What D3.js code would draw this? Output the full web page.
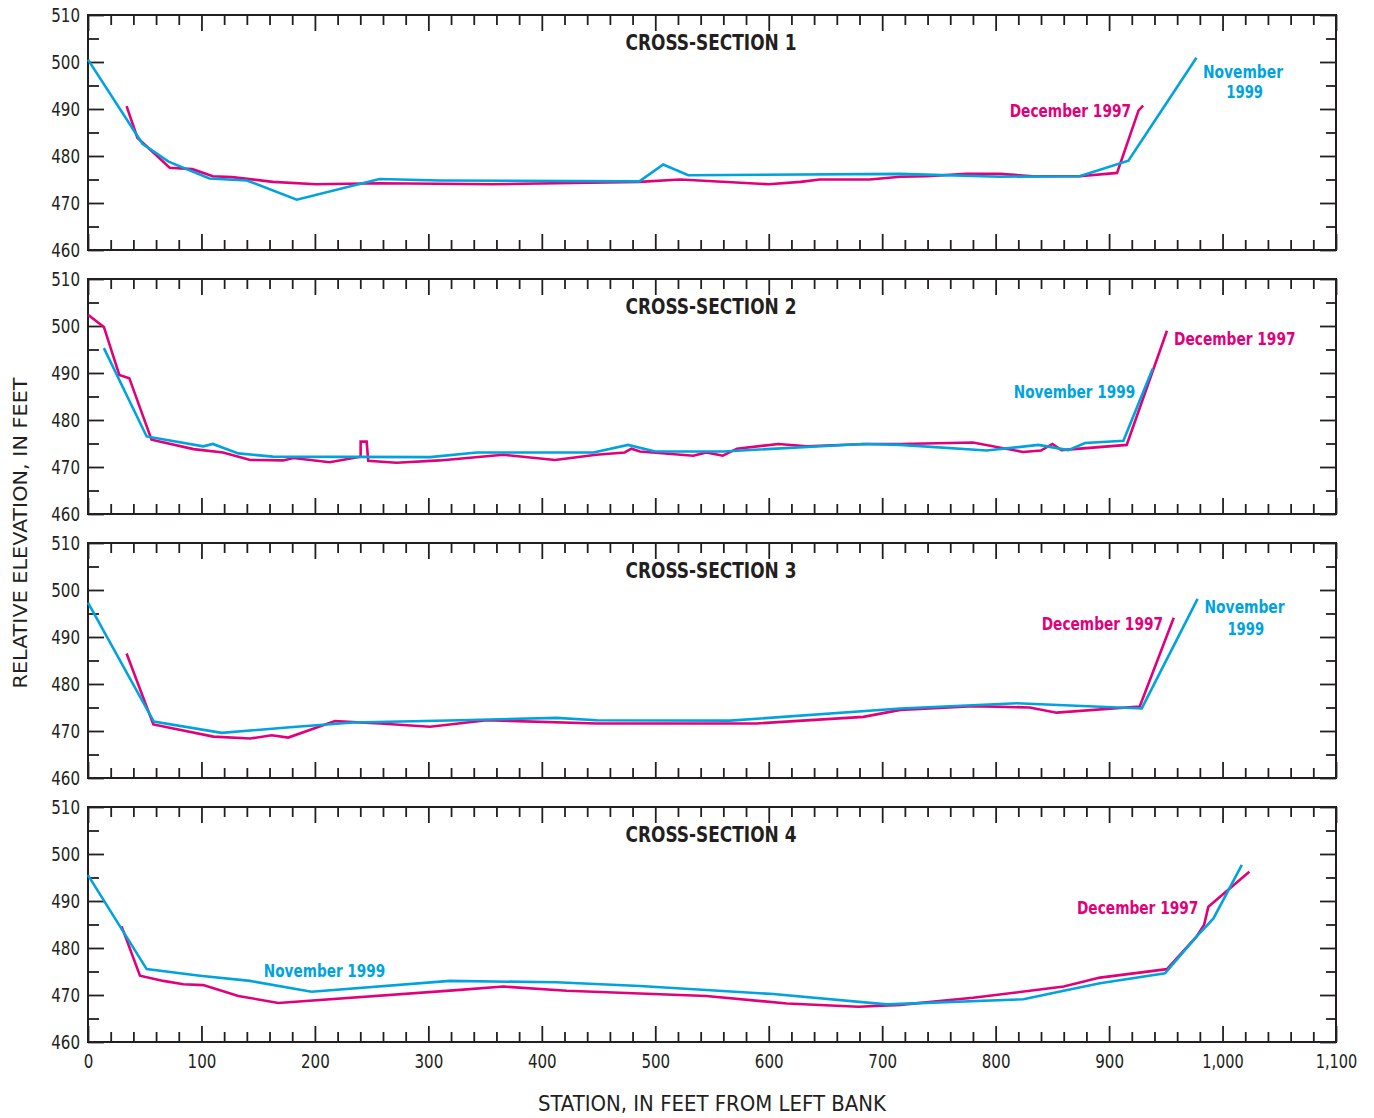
<!DOCTYPE html>
<html><head><meta charset="utf-8">
<script src="https://cdn.jsdelivr.net/npm/d3@7"></script>
<style>
body{margin:0;background:#fff;}
svg text{font-family:"Liberation Sans Narrow","Arial Narrow","DejaVu Sans Condensed",sans-serif;fill:#231f20;}
</style></head><body><svg id="c" width="1374" height="1118"></svg>
<script>
// ---------- DATA ----------
const sectionTitles = ["CROSS-SECTION 1","CROSS-SECTION 2","CROSS-SECTION 3","CROSS-SECTION 4"];
const seriesNames = ["December 1997","November 1999"];
const xTickValues = [0,100,200,300,400,500,600,700,800,900,1000,1100];
const yTickValues = [460,470,480,490,500,510];

// Cross-section 1 : [station, elevation]
const dec1 = [[34,490.6],[43.5,483.9],[72,477.5],[92,477.2],[110,475.7],[127,475.5],[163,474.5],[201,474.0],[257,474.2],[357,474.0],[486,474.5],[522,475.0],[600,474.0],[628,474.5],[645,475.0],[689,475.0],[716,475.6],[739,475.7],[774,476.2],[804,476.2],[833,475.7],[874,475.7],[907,476.4],[926,489.7],[930,490.7]];
const nov1 = [[0,500.5],[48,482.6],[71,478.8],[107,475.2],[140,474.8],[184,470.7],[257,475.1],[310,474.8],[486,474.6],[507,478.2],[529,475.9],[716,476.2],[804,475.6],[874,475.7],[917,479.0],[977,500.9]];

// Cross-section 2
const dec2 = [[0,502.4],[14,499.8],[27.6,489.6],[36.4,488.9],[56,475.8],[93,473.8],[119,473.1],[143,471.5],[172,471.4],[181,471.9],[213,471.0],[240.3,472.2],[240.3,475.4],[245.6,475.4],[247,471.3],[272,470.9],[310,471.4],[366,472.6],[411.6,471.5],[448,472.6],[473,473.1],[479,473.9],[486.5,473.3],[533.5,472.4],[545,473.1],[559.5,472.4],[572,473.9],[608.5,474.9],[633.5,474.4],[686,474.9],[716,474.9],[780,475.2],[824,473.2],[840,473.5],[850,474.9],[858,473.6],[915.5,474.7],[951,499.0]];
const nov2 = [[14,495.3],[51.7,476.5],[101.6,474.4],[110,474.9],[132.5,472.9],[163,472.2],[301.5,472.1],[342.6,473.1],[445.6,473.1],[476,474.7],[500,473.3],[560,473.3],[683,474.9],[716,474.7],[792,473.5],[837.6,474.7],[864,473.6],[878.8,475.1],[912.6,475.6],[938.4,490.9]];

// Cross-section 3
const dec3 = [[34,486.5],[57.6,471.4],[110.5,468.8],[143,468.4],[162,469.1],[176.5,468.6],[217.7,472.1],[257.4,471.6],[301.5,470.9],[351.4,472.3],[448.4,471.6],[589.4,471.6],[683.4,473.0],[716,474.5],[780,475.3],[830,475.0],[853.8,473.9],[927,475.2],[957,494.1]];
const nov3 = [[0,497.3],[58,472.0],[117.8,469.6],[178,470.8],[233.8,471.8],[328,472.3],[413,472.8],[448.4,472.3],[566,472.2],[716,474.8],[818.6,475.9],[928.8,474.8],[978,498.1]];

// Cross-section 4
const dec4 = [[29.6,484.6],[45.8,474.1],[66.4,473.0],[84,472.3],[101.6,472.1],[132.5,469.8],[167.8,468.3],[328,471.1],[366,471.8],[422,470.9],[545,469.8],[616,468.2],[679,467.5],[716,467.9],[780,469.4],[860,471.8],[892,473.7],[951,475.5],[977,482.4],[983.7,484.9],[987.5,488.8],[1023.6,496.2]];
const nov4 = [[0,495.5],[51.7,475.5],[98.7,474.1],[142.8,473.0],[197,470.7],[319,473.0],[413,472.7],[486.5,471.9],[604,470.2],[704,468.0],[824.5,469.1],[860,470.9],[892,472.5],[949.3,474.6],[977,482.4],[992,486.3],[1017,497.7]];

const decSeries = [dec1,dec2,dec3,dec4];
const novSeries = [nov1,nov2,nov3,nov4];

// Annotation text lines: [panel, series, text, station, elevation, anchor]
const annotations = [
  [0,0,"December 1997",919.4,488.3,"end"],
  [0,1,"November",1018,496.6,"middle"],
  [0,1,"1999",1019.5,492.3,"middle"],
  [1,0,"December 1997",957.3,496.0,"start"],
  [1,1,"November 1999",923,484.6,"end"],
  [2,0,"December 1997",947.6,491.5,"end"],
  [2,1,"November",1019.4,495.2,"middle"],
  [2,1,"1999",1020.5,490.5,"middle"],
  [3,1,"November 1999",155,473.8,"start"],
  [3,0,"December 1997",871.7,487.3,"start"]
];

// ---------- LAYOUT ----------
const colors = ["#e2007a","#00a3dd"];
const ink = "#231f20";
const left = 88, right = 1336, panelH = 235, panelStep = 264, firstTop = 15;
const svg = d3.select("#c");
const x = d3.scaleLinear().domain([0,1100]).range([left,right]);
const minorX = d3.range(20,1100,20).filter(v => v % 100 !== 0);
const minorY = [465,475,485,495,505];

// approximate condensed text widths
const tickW = {digit:9.6, comma:3.2, upper:10.6, lower:8.4, space:3.6};
const noteW = {digit:9.2, comma:3.2, upper:11.5, lower:9.8, space:4.5};
function labelWidth(s, cw){
  let w = 0;
  for (const c of s){
    if (/[0-9]/.test(c)) w += cw.digit;
    else if (c === ",") w += cw.comma;
    else if (c === " ") w += cw.space;
    else if (/[A-Z]/.test(c)) w += cw.upper;
    else w += cw.lower;
  }
  return w;
}

sectionTitles.forEach((title, i) => {
  const top = firstTop + i*panelStep;
  const bottom = top + panelH;
  const y = d3.scaleLinear().domain([460,510]).range([bottom, top]);
  const g = svg.append("g");

  const styleAxis = sel => {
    sel.select(".domain").remove();
    sel.selectAll(".tick line").attr("stroke", ink).attr("stroke-width", 1.8);
    sel.selectAll(".tick text").attr("fill", ink).style("font-size","20px").attr("font-family", null)
      .each(function(){
        const s = d3.select(this).text();
        if (s) d3.select(this).attr("textLength", labelWidth(s, tickW)).attr("lengthAdjust","spacingAndGlyphs");
      });
  };

  g.append("g").attr("transform",`translate(0,${top})`)
    .call(d3.axisTop(x).tickValues(xTickValues).tickSize(-16).tickFormat("")).call(styleAxis);
  g.append("g").attr("transform",`translate(0,${top})`)
    .call(d3.axisTop(x).tickValues(minorX).tickSize(-10).tickFormat("")).call(styleAxis);
  const last = i === sectionTitles.length-1;
  g.append("g").attr("transform",`translate(0,${bottom})`)
    .call(d3.axisBottom(x).tickValues(xTickValues).tickSize(-16).tickPadding(12)
      .tickFormat(last ? d3.format(",") : "")).call(styleAxis);
  g.append("g").attr("transform",`translate(0,${bottom})`)
    .call(d3.axisBottom(x).tickValues(minorX).tickSize(-10).tickFormat("")).call(styleAxis);
  g.append("g").attr("transform",`translate(${left},0)`)
    .call(d3.axisLeft(y).tickValues(yTickValues).tickSize(-16).tickPadding(8)).call(styleAxis);
  g.append("g").attr("transform",`translate(${left},0)`)
    .call(d3.axisLeft(y).tickValues(minorY).tickSize(-11).tickFormat("")).call(styleAxis);
  g.append("g").attr("transform",`translate(${right},0)`)
    .call(d3.axisRight(y).tickValues(yTickValues).tickSize(-16).tickFormat("")).call(styleAxis);
  g.append("g").attr("transform",`translate(${right},0)`)
    .call(d3.axisRight(y).tickValues(minorY).tickSize(-10).tickFormat("")).call(styleAxis);

  g.append("rect").attr("x",left).attr("y",top).attr("width",right-left).attr("height",panelH)
    .attr("fill","none").attr("stroke",ink).attr("stroke-width",2);

  const line = d3.line().x(d => x(d[0])).y(d => y(d[1]));
  [decSeries[i], novSeries[i]].forEach((data, s) => {
    g.append("path").datum(data).attr("d", line).attr("fill","none")
      .attr("stroke", colors[s]).attr("stroke-width", 2.6).attr("stroke-linejoin","miter");
  });

  g.append("text").attr("x", 711).attr("y", top + 35).attr("text-anchor","middle")
    .style("font-size","22px").style("font-weight","bold")
    .attr("textLength",171).attr("lengthAdjust","spacingAndGlyphs").text(title);

  annotations.filter(a => a[0] === i).forEach(a => {
    g.append("text").attr("text-anchor", a[5])
      .attr("x", x(a[3])).attr("y", y(a[4]))
      .style("font-size","18px").style("font-weight","bold")
      .style("fill", colors[a[1]])
      .attr("textLength", labelWidth(a[2], noteW)).attr("lengthAdjust","spacingAndGlyphs")
      .text(a[2]);
  });
});

svg.append("text").attr("x", 712).attr("y", 1111).attr("text-anchor","middle")
  .style("font-size","21px").attr("textLength",348).attr("lengthAdjust","spacingAndGlyphs")
  .text("STATION, IN FEET FROM LEFT BANK");
svg.append("text").attr("transform","translate(27,533) rotate(-90)").attr("text-anchor","middle")
  .style("font-size","20px").attr("textLength",311).attr("lengthAdjust","spacingAndGlyphs")
  .text("RELATIVE ELEVATION, IN FEET");
</script></body></html>
